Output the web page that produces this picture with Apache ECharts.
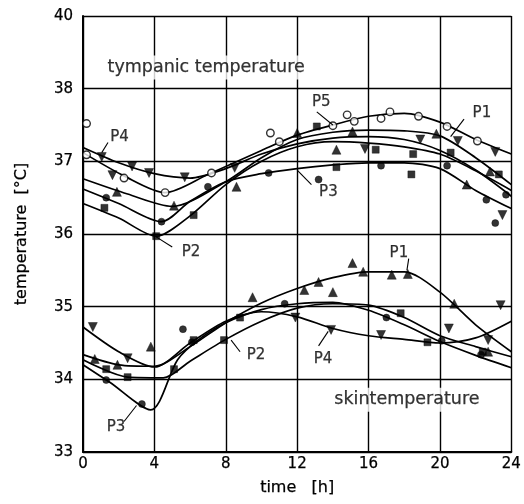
<!DOCTYPE html>
<html>
<head>
<meta charset="utf-8">
<script src="https://cdn.jsdelivr.net/npm/echarts@6/dist/echarts.min.js"></script>
<style>
  html, body { margin: 0; padding: 0; background: #fff; }
  #chart { width: 524px; height: 504px; }
</style>
</head>
<body>
<div id="chart"></div>
<script>
// Hour ticks along the time axis
const hourTicks = [0, 4, 8, 12, 16, 20, 24];
// Temperature ticks; the top tick stands for the broken range up to 40 °C
const tempTicks = [33, 34, 35, 36, 37, 38, 39];
const tempTickLabels = ['33', '34', '35', '36', '37', '38', '40'];

const subjects = ['P1', 'P2', 'P3', 'P4', 'P5'];

// Fitted daily curves, tympanic temperature [h, °C]
const tympP1Curve = [[0,36.76],[2.5,36.55],[5,36.38],[8,36.72],[10,37.05],[12,37.3],[14,37.4],[16,37.43],[18,37.42],[20,37.35],[22,37.05],[24,36.68]];
const tympP2Curve = [[0,36.42],[2,36.22],[4.1,35.97],[6,36.25],[8,36.68],[10,37.0],[12,37.2],[14,37.27],[16,37.25],[18,37.2],[20,37.1],[22,36.87],[24,36.6]];
const tympP3Curve = [[0,36.62],[2,36.42],[4.4,36.17],[6,36.45],[8,36.72],[10,36.83],[12,36.9],[14,36.95],[16,36.98],[18,36.98],[20,36.9],[22,36.6],[24,36.35]];
const tympP4Curve = [[0,37.19],[2,36.98],[4,36.83],[6,36.77],[8,36.9],[10,37.1],[12,37.24],[14,37.32],[16,37.34],[18,37.3],[20,37.15],[22,36.88],[24,36.52]];
const tympP5Curve = [[0,37.12],[2.3,36.8],[4.6,36.57],[7,36.82],[10,37.15],[12,37.36],[14,37.5],[16,37.62],[18,37.66],[20,37.54],[22,37.3],[24,37.1]];

// Measured tympanic temperatures [h, °C]
const tympP1Obs = [[1.9,36.58],[5.1,36.39],[8.6,36.65],[12.0,37.39],[14.2,37.16],[15.1,37.41],[19.8,37.38],[21.5,36.68],[22.8,36.86]];
const tympP2Obs = [[1.2,36.36],[4.1,35.97],[6.2,36.26],[13.1,37.48],[14.2,36.92],[16.4,37.16],[18.4,36.82],[18.5,37.1],[20.6,37.12],[23.3,36.82]];
const tympP3Obs = [[1.3,36.5],[4.4,36.17],[7.0,36.65],[10.4,36.84],[13.2,36.75],[16.7,36.94],[20.4,36.94],[22.6,36.47],[23.7,36.54],[23.1,36.15]];
const tympP4Obs = [[1.05,37.06],[1.65,36.81],[2.75,36.93],[3.7,36.84],[5.7,36.78],[8.5,36.91],[15.8,37.17],[18.9,37.3],[21.0,37.28],[23.1,37.13],[23.5,36.26]];
const tympP5Obs = [[0.2,37.52],[0.2,37.09],[2.3,36.77],[4.6,36.57],[7.2,36.84],[10.5,37.39],[11.0,37.27],[14.0,37.49],[14.8,37.64],[15.2,37.55],[16.7,37.59],[17.2,37.68],[18.8,37.62],[20.4,37.48],[22.1,37.28]];

// Fitted daily curves, skin temperature [h, °C]
const skinP1Curve = [[0,34.34],[2,34.2],[4,34.18],[6,34.45],[8,34.78],[10,35.05],[12,35.25],[14,35.4],[16,35.48],[18,35.48],[20,35.2],[22,34.75],[24,34.38]];
const skinP2Curve = [[0,34.27],[2.5,34.03],[4.5,34.02],[6,34.25],[8,34.55],[10,34.8],[12,34.98],[14,35.04],[16,35.02],[18,34.85],[20,34.6],[22,34.45],[24,34.31]];
const skinP3Curve = [[0,34.2],[1.5,33.96],[3.8,33.58],[5.3,34.27],[6.5,34.55],[8,34.78],[10,34.96],[12,35.04],[14,35.06],[16,34.95],[18,34.75],[20,34.52],[22,34.33],[24,34.16]];
const skinP4Curve = [[0,34.72],[2,34.38],[4,34.17],[6,34.5],[8,34.8],[10,34.93],[12,34.86],[14,34.7],[16,34.6],[18,34.55],[20,34.5],[22,34.57],[24,34.8]];

// Measured skin temperatures [h, °C]
const skinP1Obs = [[0.66,34.28],[1.93,34.2],[3.8,34.45],[9.5,35.13],[12.4,35.23],[13.2,35.34],[14.0,35.2],[15.1,35.6],[15.7,35.48],[17.3,35.44],[18.2,35.45],[20.8,35.04],[22.7,34.38]];
const skinP2Obs = [[1.3,34.14],[2.5,34.03],[5.1,34.14],[6.2,34.54],[7.9,34.54],[8.8,34.85],[17.8,34.91],[19.3,34.51],[22.4,34.38]];
const skinP3Obs = [[1.3,33.99],[3.3,33.66],[5.6,34.69],[6.1,34.51],[11.3,35.04],[17.0,34.85],[20.1,34.53],[22.3,34.34]];
const skinP4Obs = [[0.55,34.72],[2.5,34.29],[11.9,34.85],[13.9,34.68],[16.7,34.61],[20.5,34.7],[22.7,34.54],[23.4,35.02]];

// Curve labels: text anchor, leader start, leader end [h, °C]
const labelText = ['P4', 'P2', 'P5', 'P3', 'P1', 'P1', 'P2', 'P4', 'P3'];
const labelAt = [[2.05,37.34],[6.05,35.75],[13.35,37.82],[13.75,36.57],[22.35,37.66],[17.7,35.74],[9.7,34.33],[13.45,34.28],[1.85,33.34]];
const leaderFrom = [[1.4,37.26],[5.0,35.82],[13.1,37.68],[12.8,36.68],[21.35,37.58],[18.25,35.66],[8.8,34.38],[13.2,34.46],[2.3,33.42]];
const leaderTo = [[1.05,37.12],[4.1,35.96],[14.0,37.5],[12.0,36.88],[20.6,37.34],[18.15,35.5],[8.3,34.54],[13.74,34.66],[3.0,33.64]];

// Section headings
const headingText = ['tympanic temperature', 'skintemperature'];
const headingAt = [[6.9,38.29],[18.15,33.72]];

const FONT = 'DejaVu Sans';
const INK = '#000';
// A hairline outline in the ink colour gives the lettering a slightly heavier stroke
const inkText = { color: INK, fontFamily: FONT, textBorderColor: INK, textBorderWidth: 0.25 };

const markerStyle = {
  P1: { symbol: 'triangle', rotate: 0, fill: INK, size: 9 },
  P2: { symbol: 'rect', rotate: 0, fill: INK, size: 7 },
  P3: { symbol: 'circle', rotate: 0, fill: INK, size: 7 },
  P4: { symbol: 'triangle', rotate: 180, fill: INK, size: 9 },
  P5: { symbol: 'circle', rotate: 0, fill: '#fff', size: 7.5 }
};

const groups = [
  { curves: [tympP1Curve, tympP2Curve, tympP3Curve, tympP4Curve, tympP5Curve],
    obs: [tympP1Obs, tympP2Obs, tympP3Obs, tympP4Obs, tympP5Obs] },
  { curves: [skinP1Curve, skinP2Curve, skinP3Curve, skinP4Curve],
    obs: [skinP1Obs, skinP2Obs, skinP3Obs, skinP4Obs] }
];

const series = [];
groups.forEach(g => {
  g.curves.forEach(c => {
    series.push({
      type: 'line', data: c, smooth: 0.28, showSymbol: false, silent: true,
      lineStyle: { color: INK, width: 1.7 }, z: 3
    });
  });
  g.obs.forEach((o, i) => {
    const m = markerStyle[subjects[i]];
    series.push({
      type: 'scatter', data: o, symbol: m.symbol, symbolRotate: m.rotate,
      symbolSize: m.size, silent: true, z: 4,
      itemStyle: { color: m.fill, borderColor: INK, borderWidth: m.fill === '#fff' ? 1.4 : 0.5 }
    });
  });
});

// Curve labels with their leader lines
series.push({
  type: 'scatter', silent: true, symbolSize: 0, z: 6,
  data: labelAt.map((p, i) => ({ value: p, name: labelText[i] })),
  label: Object.assign({ show: true, position: 'inside', formatter: '{b}', fontSize: 15 }, inkText),
  markLine: {
    silent: true, symbol: 'none', animation: false,
    lineStyle: { color: INK, width: 1.1, type: 'solid' },
    label: { show: false },
    data: leaderFrom.map((p, i) => [{ coord: p }, { coord: leaderTo[i] }])
  }
});

// Section headings on a white ground so grid lines break around them
series.push({
  type: 'scatter', silent: true, symbolSize: 0, z: 7,
  data: headingAt.map((p, i) => ({ value: p, name: headingText[i] })),
  label: Object.assign({ show: true, position: 'inside', formatter: '{b}', fontSize: 17.5,
                         backgroundColor: '#fff', padding: [3, 4] }, inkText)
});

const chart = echarts.init(document.getElementById('chart'));
chart.setOption({
  animation: false,
  backgroundColor: '#fff',
  grid: { left: 83, right: 7, top: 16, bottom: 52 },
  xAxis: {
    type: 'value', min: hourTicks[0], max: hourTicks[hourTicks.length - 1], interval: 4,
    name: 'time   [h]', nameLocation: 'middle', nameGap: 28,
    nameTextStyle: Object.assign({ fontSize: 16 }, inkText),
    axisLine: { show: true, lineStyle: { color: INK, width: 2 } },
    axisTick: { show: false },
    axisLabel: Object.assign({ fontSize: 15, margin: 5 }, inkText),
    splitLine: { show: true, showMinLine: true, showMaxLine: true, lineStyle: { color: INK, width: 1.4 } }
  },
  yAxis: {
    type: 'value', min: tempTicks[0], max: tempTicks[tempTicks.length - 1], interval: 1,
    name: 'temperature  [°C]', nameLocation: 'middle', nameGap: 53, nameRotate: 90,
    nameTextStyle: Object.assign({ fontSize: 16 }, inkText),
    axisLine: { show: true, lineStyle: { color: INK, width: 2 } },
    axisTick: { show: false },
    axisLabel: Object.assign({ fontSize: 15, margin: 10,
                 formatter: v => tempTickLabels[tempTicks.indexOf(v)] }, inkText),
    splitLine: { show: true, showMinLine: true, showMaxLine: true, lineStyle: { color: INK, width: 1.4 } }
  },
  series: series
});
</script>
</body>
</html>
